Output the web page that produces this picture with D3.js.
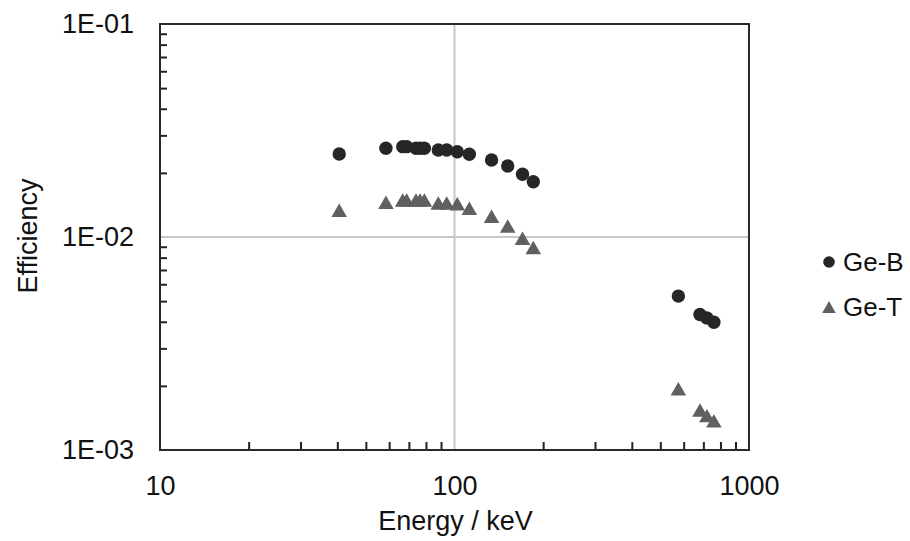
<!DOCTYPE html>
<html>
<head>
<meta charset="utf-8">
<script src="https://cdn.jsdelivr.net/npm/d3@7"></script>
<style>
  html, body { margin: 0; padding: 0; background: #fff; }
  svg { display: block; font-family: "Liberation Sans", Arial, sans-serif; }
</style>
</head>
<body>
<svg id="chart" width="910" height="541"></svg>
<script>
// ---- data ----
const energies = [40.6, 58.5, 66.7, 68.8, 74.0, 76.4, 79.0, 88.1, 94.1, 102.2, 112.3, 133.6, 151.6, 170.2, 185.2, 575.6, 681.7, 719.6, 760.0];
const geB = [0.02454, 0.02609, 0.02655, 0.02655, 0.0261, 0.0261, 0.0261, 0.02562, 0.02562, 0.02515, 0.02445, 0.02299, 0.02154, 0.0197, 0.01818, 0.00528, 0.00433, 0.00417, 0.00398];
const geT = [0.01334, 0.01457, 0.01493, 0.01493, 0.01493, 0.01493, 0.01493, 0.01444, 0.01444, 0.01431, 0.01363, 0.01251, 0.01126, 0.00986, 0.00893, 0.00194, 0.00154, 0.00145, 0.00137];
const seriesNames = ["Ge-B", "Ge-T"];
const xTickValues = [10, 100, 1000];
const xTickLabels = ["10", "100", "1000"];
const yTickValues = [0.1, 0.01, 0.001];
const yTickLabels = ["1E-01", "1E-02", "1E-03"];
const xTitle = "Energy / keV";
const yTitle = "Efficiency";

// ---- layout ----
const L = 160, R = 749, T = 24, B = 450;
const svg = d3.select("#chart");
const x = d3.scaleLog().domain([10, 1000]).range([L, R]);
const y = d3.scaleLog().domain([0.001, 0.1]).range([B, T]);

const minorX = [];
[10, 100].forEach(d => { for (let k = 2; k <= 9; k++) minorX.push(d * k); });
const minorY = [];
[0.001, 0.01].forEach(d => { for (let k = 2; k <= 9; k++) minorY.push(d * k); });

// gridlines
svg.append("g").selectAll("line").data([100]).join("line")
  .attr("x1", d => x(d)).attr("x2", d => x(d)).attr("y1", T).attr("y2", B)
  .attr("stroke", "#c8c8c8").attr("stroke-width", 2);
svg.append("g").selectAll("line").data([0.01]).join("line")
  .attr("x1", L).attr("x2", R).attr("y1", d => y(d)).attr("y2", d => y(d))
  .attr("stroke", "#c8c8c8").attr("stroke-width", 2);

// minor ticks (inside)
const bx = svg.append("g").attr("transform", `translate(0,${B})`)
  .call(d3.axisBottom(x).tickValues(minorX).tickSize(-8).tickFormat(""));
bx.select(".domain").remove();
bx.selectAll("line").attr("stroke", "#222").attr("stroke-width", 2);

const ly = svg.append("g").attr("transform", `translate(${L},0)`)
  .call(d3.axisLeft(y).tickValues(minorY).tickSize(-7).tickFormat(""));
ly.select(".domain").remove();
ly.selectAll("line").attr("stroke", "#222").attr("stroke-width", 2);

// frame
svg.append("rect").attr("x", L).attr("y", T).attr("width", R - L).attr("height", B - T)
  .attr("fill", "none").attr("stroke", "#2a2a2a").attr("stroke-width", 2);

// tick labels
const xl = svg.append("g").attr("transform", `translate(0,${B})`)
  .call(d3.axisBottom(x).tickValues(xTickValues).tickSize(0).tickPadding(0)
    .tickFormat((d, i) => xTickLabels[i]));
xl.select(".domain").remove();
xl.selectAll("text").attr("y", 45).attr("dy", null).attr("font-size", 27)
  .attr("font-family", "Liberation Sans, Arial, sans-serif").attr("fill", "#111");

const yl = svg.append("g").attr("transform", `translate(${L},0)`)
  .call(d3.axisLeft(y).tickValues(yTickValues).tickSize(0).tickPadding(0)
    .tickFormat((d, i) => yTickLabels[i]));
yl.select(".domain").remove();
yl.selectAll("text").attr("x", -26).attr("dy", 8).attr("font-size", 27)
  .attr("font-family", "Liberation Sans, Arial, sans-serif").attr("fill", "#111");

// axis titles
svg.append("text").attr("x", (L + R) / 2 + 1).attr("y", 530).attr("text-anchor", "middle")
  .attr("font-size", 27).attr("fill", "#111").text(xTitle);
svg.append("text").attr("transform", "translate(37,236) rotate(-90)").attr("text-anchor", "middle")
  .attr("font-size", 27).attr("fill", "#111").text(yTitle);

// markers: triangle centred on its bounding box (as in spreadsheet charts)
const boxTriangle = {
  draw(ctx, size) {
    const s = Math.sqrt(size * 4 / Math.sqrt(3));
    const h = s * Math.sqrt(3) / 2;
    ctx.moveTo(0, -h / 2);
    ctx.lineTo(s / 2, h / 2);
    ctx.lineTo(-s / 2, h / 2);
    ctx.closePath();
  }
};
const circColor = "#262626", triColor = "#606060";
const triSym = d3.symbol().type(boxTriangle).size(105);
const ptsB = energies.map((e, i) => ({ e, v: geB[i] }));
const ptsT = energies.map((e, i) => ({ e, v: geT[i] }));

svg.append("g").selectAll("path").data(ptsT).join("path")
  .attr("d", triSym)
  .attr("transform", d => `translate(${x(d.e)},${y(d.v)})`)
  .attr("fill", triColor);
svg.append("g").selectAll("circle").data(ptsB).join("circle")
  .attr("cx", d => x(d.e)).attr("cy", d => y(d.v)).attr("r", 6.7)
  .attr("fill", circColor);

// legend
const lg = svg.append("g");
lg.append("circle").attr("cx", 829).attr("cy", 262).attr("r", 5.8).attr("fill", circColor);
lg.append("path").attr("d", d3.symbol().type(boxTriangle).size(80)).attr("transform", "translate(829,307)").attr("fill", triColor);
lg.append("text").attr("x", 843).attr("y", 271).attr("font-size", 26).attr("fill", "#111").text(seriesNames[0]);
lg.append("text").attr("x", 843).attr("y", 316).attr("font-size", 26).attr("fill", "#111").text(seriesNames[1]);
</script>
</body>
</html>
